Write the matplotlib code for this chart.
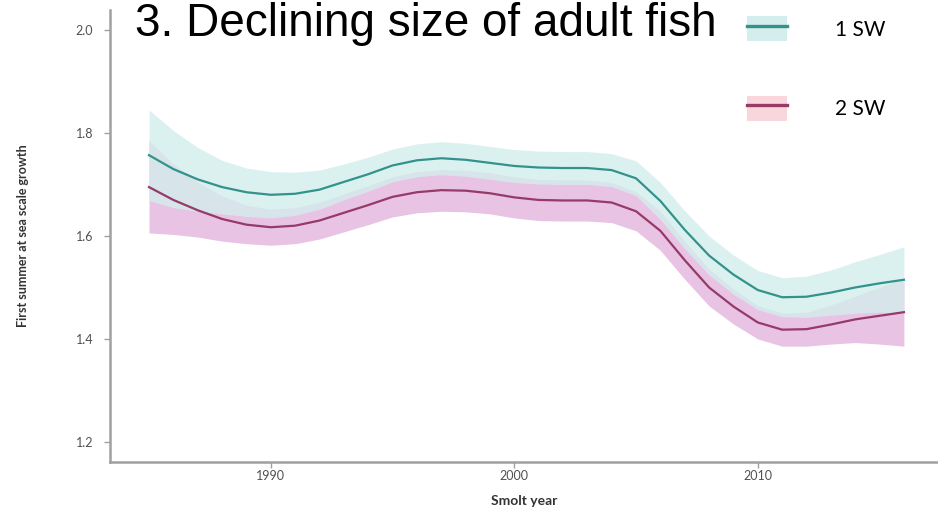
import matplotlib.pyplot as plt
from matplotlib.patches import Patch
from matplotlib.lines import Line2D

# Smoothed first-summer scale growth by smolt year, with confidence bands
years = list(range(1985, 2017))

sw1_mean = [1.757, 1.730, 1.710, 1.695, 1.685, 1.680, 1.682, 1.690, 1.705, 1.720,
            1.737, 1.747, 1.751, 1.748, 1.742, 1.736, 1.733, 1.732, 1.732, 1.728,
            1.712, 1.668, 1.612, 1.562, 1.525, 1.495, 1.481, 1.482, 1.490, 1.500,
            1.508, 1.515]
sw1_upper = [1.845, 1.805, 1.772, 1.747, 1.732, 1.725, 1.724, 1.728, 1.740, 1.753,
             1.769, 1.779, 1.783, 1.780, 1.774, 1.768, 1.765, 1.764, 1.764, 1.760,
             1.746, 1.704, 1.649, 1.600, 1.563, 1.533, 1.519, 1.522, 1.534, 1.550,
             1.564, 1.579]
sw1_lower = [1.669, 1.655, 1.648, 1.643, 1.638, 1.635, 1.640, 1.652, 1.670, 1.687,
             1.705, 1.715, 1.719, 1.716, 1.710, 1.704, 1.701, 1.700, 1.700, 1.696,
             1.678, 1.632, 1.575, 1.524, 1.487, 1.457, 1.443, 1.442, 1.446, 1.450,
             1.452, 1.451]

sw2_mean = [1.695, 1.670, 1.650, 1.633, 1.622, 1.617, 1.620, 1.630, 1.645, 1.660,
            1.676, 1.685, 1.689, 1.688, 1.683, 1.675, 1.670, 1.669, 1.669, 1.665,
            1.648, 1.610, 1.553, 1.500, 1.463, 1.432, 1.418, 1.419, 1.428, 1.438,
            1.445, 1.452]
sw2_upper = [1.785, 1.740, 1.705, 1.678, 1.660, 1.652, 1.655, 1.666, 1.682, 1.698,
             1.715, 1.725, 1.729, 1.728, 1.723, 1.715, 1.710, 1.709, 1.709, 1.704,
             1.686, 1.648, 1.590, 1.536, 1.497, 1.465, 1.450, 1.452, 1.466, 1.483,
             1.500, 1.518]
sw2_lower = [1.606, 1.603, 1.598, 1.590, 1.585, 1.582, 1.585, 1.594, 1.608, 1.622,
             1.637, 1.645, 1.648, 1.647, 1.643, 1.635, 1.630, 1.629, 1.629, 1.626,
             1.610, 1.572, 1.516, 1.464, 1.429, 1.400, 1.386, 1.386, 1.390, 1.393,
             1.390, 1.386]

y_ticks = [1.2, 1.4, 1.6, 1.8, 2.0]
x_ticks = [1990, 2000, 2010]

teal = '#33928c'
teal_band = '#d3eeed'
pink = '#963a68'
pink_band = '#e8c3e4'

fig = plt.figure(figsize=(9.38, 5.12), dpi=100)
ax = fig.add_axes([0.1173, 0.0977, 0.8827, 0.8828])

ax.fill_between(years, sw2_lower, sw2_upper, color=pink_band, lw=0)
ax.fill_between(years, sw1_lower, sw1_upper, color=teal_band, alpha=0.8, lw=0)
ax.plot(years, sw1_mean, color=teal, lw=1.6)
ax.plot(years, sw2_mean, color=pink, lw=1.6)

ax.set_xlim(1983.4, 2017.4)
ax.set_ylim(1.161, 2.039)
ax.set_xticks(x_ticks)
ax.set_yticks(y_ticks)
ax.set_yticklabels(['%.1f' % v for v in y_ticks])

for side in ['top', 'right']:
    ax.spines[side].set_visible(False)
for side in ['left', 'bottom']:
    ax.spines[side].set_color('#a0a0a0')
    ax.spines[side].set_linewidth(1.8)
ax.tick_params(colors='#a0a0a0', length=4, width=1, labelsize=9,
               labelcolor='#505050')
ax.tick_params(axis='y', pad=8)
ax.tick_params(axis='x', pad=2)
for lab in ax.get_xticklabels() + ax.get_yticklabels():
    lab.set_family('Lato')

ax.set_xlabel('Smolt year', family='Lato', fontweight='bold', fontsize=10,
              color='#333333', labelpad=9)
ax.set_ylabel('First summer at sea scale growth', family='Lato',
              fontweight='bold', fontsize=9, color='#333333', labelpad=34)

handles = [(Patch(facecolor=teal_band, edgecolor='none'), Line2D([], [], color=teal, lw=2.4)),
           (Patch(facecolor='#f8d6dc', edgecolor='none'), Line2D([], [], color=pink, lw=2.4))]
ax.legend(handles, ['1 SW', '2 SW'], loc='upper left',
          bbox_to_anchor=(0.747, 1.028), frameon=False,
          handlelength=1.9, handleheight=1.5, labelspacing=2.6,
          handletextpad=2.3, prop={'family': 'Lato', 'size': 15})

fig.text(0.144, 0.93, '3. Declining size of adult fish', fontsize=33,
         family='Liberation Sans', va='baseline', ha='left', color='black')

fig.savefig('out.png', dpi=100)
